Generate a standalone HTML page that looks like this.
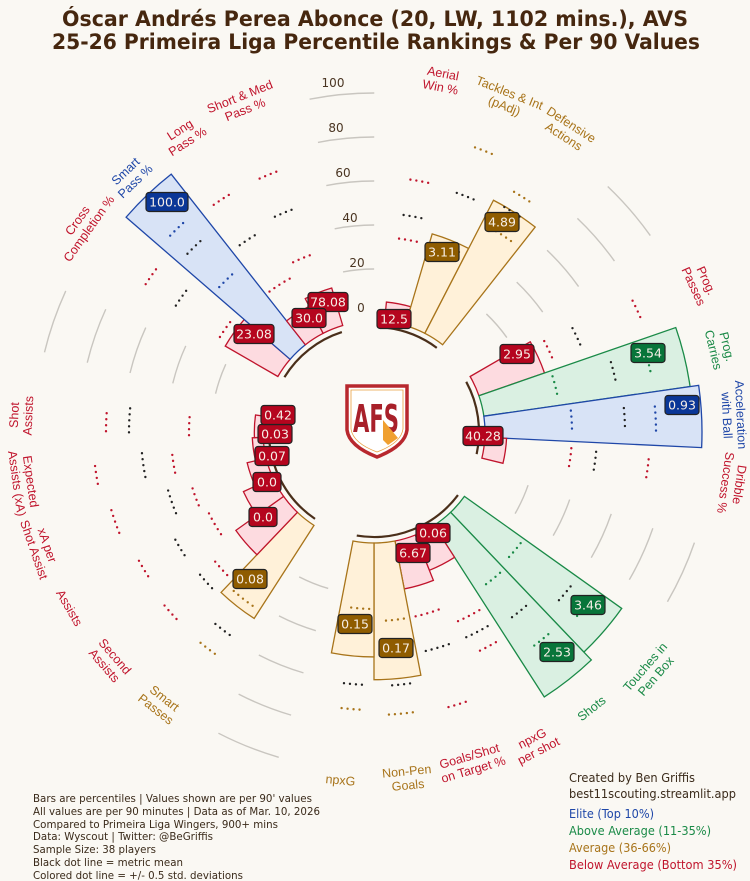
<!DOCTYPE html>
<html><head><meta charset="utf-8"><style>
html,body{margin:0;padding:0;background:#faf8f3;}
svg{display:block;font-family:"DejaVu Sans","Liberation Sans",sans-serif;}
</style></head><body>
<svg id="s" width="750" height="881" viewBox="0 0 750 881" xmlns="http://www.w3.org/2000/svg">
<rect width="750" height="881" fill="#faf8f3"/>
<g id="grid"></g><g id="bars"></g><g id="dots"></g>
<text x="375" y="26" text-anchor="middle" font-size="21" font-weight="bold" fill="#46270f" textLength="626" lengthAdjust="spacingAndGlyphs">Óscar Andrés Perea Abonce (20, LW, 1102 mins.), AVS</text>
<text x="376" y="49" text-anchor="middle" font-size="21" font-weight="bold" fill="#46270f" textLength="648" lengthAdjust="spacingAndGlyphs">25-26 Primeira Liga Percentile Rankings &amp; Per 90 Values</text>
<g font-size="12" fill="#4a3522" text-anchor="middle">
<text x="361" y="312">0</text><text x="357" y="267">20</text><text x="350" y="222">40</text><text x="343" y="177">60</text><text x="336" y="132">80</text><text x="333" y="87">100</text>
</g>
<g font-size="12.5" text-anchor="middle" font-family="Liberation Sans, sans-serif">
<g transform="translate(374,432) rotate(10.9) translate(0,-358)" fill="#c0142c"><text y="-3">Aerial</text><text y="11">Win %</text></g>
<g transform="translate(374,432) rotate(21.8) translate(0,-358)" fill="#a8741a"><text y="-3">Tackles &amp; Int</text><text y="11">(pAdj)</text></g>
<g transform="translate(374,432) rotate(32.7) translate(0,-358)" fill="#a8741a"><text y="-3">Defensive</text><text y="11">Actions</text></g>
<g transform="translate(374,432) rotate(65.5) translate(0,-358)" fill="#c0142c"><text y="-3">Prog.</text><text y="11">Passes</text></g>
<g transform="translate(374,432) rotate(76.4) translate(0,-356)" fill="#1a8a47"><text y="-3">Prog.</text><text y="11">Carries</text></g>
<g transform="translate(374,432) rotate(87.3) translate(0,-360)" fill="#1f47a8"><text y="-3">Acceleration</text><text y="11">with Ball</text></g>
<g transform="translate(374,432) rotate(98.2) translate(0,-362)" fill="#c0142c"><text y="-3">Dribble</text><text y="11">Success %</text></g>
<g transform="translate(374,432) rotate(130.9) translate(0,-366) rotate(180)" fill="#1a8a47"><text y="-3">Touches in</text><text y="11">Pen Box</text></g>
<g transform="translate(374,432) rotate(141.8) translate(0,-352) rotate(180)" fill="#1a8a47"><text y="4">Shots</text></g>
<g transform="translate(374,432) rotate(152.7) translate(0,-352) rotate(180)" fill="#c0142c"><text y="-3">npxG</text><text y="11">per shot</text></g>
<g transform="translate(374,432) rotate(163.6) translate(0,-345) rotate(180)" fill="#c0142c"><text y="-3">Goals/Shot</text><text y="11">on Target %</text></g>
<g transform="translate(374,432) rotate(174.5) translate(0,-348) rotate(180)" fill="#a8741a"><text y="-3">Non-Pen</text><text y="11">Goals</text></g>
<g transform="translate(374,432) rotate(185.5) translate(0,-350) rotate(180)" fill="#a8741a"><text y="4">npxG</text></g>
<g transform="translate(374,432) rotate(218.2) translate(0,-346) rotate(180)" fill="#a8741a"><text y="-3">Smart</text><text y="11">Passes</text></g>
<g transform="translate(374,432) rotate(229.1) translate(0,-350) rotate(180)" fill="#c0142c"><text y="-3">Second</text><text y="11">Assists</text></g>
<g transform="translate(374,432) rotate(240) translate(0,-352) rotate(180)" fill="#c0142c"><text y="4">Assists</text></g>
<g transform="translate(374,432) rotate(250.9) translate(0,-353) rotate(180)" fill="#c0142c"><text y="-3">xA per</text><text y="11">Shot Assist</text></g>
<g transform="translate(374,432) rotate(261.8) translate(0,-354) rotate(180)" fill="#c0142c"><text y="-3">Expected</text><text y="11">Assists (xA)</text></g>
<g transform="translate(374,432) rotate(272.7) translate(0,-353)" fill="#c0142c"><text y="-3">Shot</text><text y="11">Assists</text></g>
<g transform="translate(374,432) rotate(305.5) translate(0,-357)" fill="#c0142c"><text y="-3">Cross</text><text y="11">Completion %</text></g>
<g transform="translate(374,432) rotate(316.4) translate(0,-353)" fill="#1f47a8"><text y="-3">Smart</text><text y="11">Pass %</text></g>
<g transform="translate(374,432) rotate(327.3) translate(0,-352)" fill="#c0142c"><text y="-3">Long</text><text y="11">Pass %</text></g>
<g transform="translate(374,432) rotate(338.2) translate(0,-354)" fill="#c0142c"><text y="-3">Short &amp; Med</text><text y="11">Pass %</text></g>
</g>
<g>
<path d="M347,386 L407,386 L407,430 Q405,446 377,457 Q349,446 347,430 Z" fill="#fff" stroke="#b8282e" stroke-width="3.5"/>
<path d="M351,390 L403,390 L403,429 Q401,443 377,452 Q353,443 351,429 Z" fill="none" stroke="#e8a040" stroke-width="0.8"/>
<text x="376" y="432" text-anchor="middle" font-size="38" font-weight="bold" fill="#a8202a" textLength="46" lengthAdjust="spacingAndGlyphs">AFS</text>
<path d="M383,420 L398,438 L388,445 L383,440 Z" fill="#f0a030"/>
</g>
<g id="vals" font-size="12.5" text-anchor="middle" fill="#f6eee6">
<g><rect x="308" y="292.5" width="40" height="19" rx="3" fill="#b5051e" stroke="#222" stroke-width="1.2"/><text x="328" y="306.5">78.08</text></g>
<g><rect x="292" y="308.5" width="34" height="19" rx="3" fill="#b5051e" stroke="#222" stroke-width="1.2"/><text x="309" y="322.5">30.0</text></g>
<g><rect x="234" y="324.5" width="40" height="19" rx="3" fill="#b5051e" stroke="#222" stroke-width="1.2"/><text x="254" y="338.5">23.08</text></g>
<g><rect x="146" y="192.5" width="42" height="19" rx="3" fill="#0a3697" stroke="#222" stroke-width="1.2"/><text x="167" y="206.5">100.0</text></g>
<g><rect x="377" y="309.5" width="34" height="19" rx="3" fill="#b5051e" stroke="#222" stroke-width="1.2"/><text x="394" y="323.5">12.5</text></g>
<g><rect x="425" y="242.5" width="34" height="19" rx="3" fill="#8f5c00" stroke="#222" stroke-width="1.2"/><text x="442" y="256.5">3.11</text></g>
<g><rect x="485" y="212.5" width="34" height="19" rx="3" fill="#8f5c00" stroke="#222" stroke-width="1.2"/><text x="502" y="226.5">4.89</text></g>
<g><rect x="500" y="344.5" width="34" height="19" rx="3" fill="#b5051e" stroke="#222" stroke-width="1.2"/><text x="517" y="358.5">2.95</text></g>
<g><rect x="631" y="343.5" width="34" height="19" rx="3" fill="#08753a" stroke="#222" stroke-width="1.2"/><text x="648" y="357.5">3.54</text></g>
<g><rect x="665" y="395.5" width="34" height="19" rx="3" fill="#0a3697" stroke="#222" stroke-width="1.2"/><text x="682" y="409.5">0.93</text></g>
<g><rect x="463" y="426.5" width="40" height="19" rx="3" fill="#b5051e" stroke="#222" stroke-width="1.2"/><text x="483" y="440.5">40.28</text></g>
<g><rect x="416" y="523.5" width="34" height="19" rx="3" fill="#b5051e" stroke="#222" stroke-width="1.2"/><text x="433" y="537.5">0.06</text></g>
<g><rect x="396" y="543.5" width="34" height="19" rx="3" fill="#b5051e" stroke="#222" stroke-width="1.2"/><text x="413" y="557.5">6.67</text></g>
<g><rect x="338" y="614.5" width="34" height="19" rx="3" fill="#8f5c00" stroke="#222" stroke-width="1.2"/><text x="355" y="628.5">0.15</text></g>
<g><rect x="379" y="638.5" width="34" height="19" rx="3" fill="#8f5c00" stroke="#222" stroke-width="1.2"/><text x="396" y="652.5">0.17</text></g>
<g><rect x="571" y="595.5" width="34" height="19" rx="3" fill="#08753a" stroke="#222" stroke-width="1.2"/><text x="588" y="609.5">3.46</text></g>
<g><rect x="540" y="642.5" width="34" height="19" rx="3" fill="#08753a" stroke="#222" stroke-width="1.2"/><text x="557" y="656.5">2.53</text></g>
<g><rect x="233" y="569.5" width="34" height="19" rx="3" fill="#8f5c00" stroke="#222" stroke-width="1.2"/><text x="250" y="583.5">0.08</text></g>
<g><rect x="249" y="507.5" width="28" height="19" rx="3" fill="#b5051e" stroke="#222" stroke-width="1.2"/><text x="263" y="521.5">0.0</text></g>
<g><rect x="253" y="472.5" width="28" height="19" rx="3" fill="#b5051e" stroke="#222" stroke-width="1.2"/><text x="267" y="486.5">0.0</text></g>
<g><rect x="255" y="446.5" width="34" height="19" rx="3" fill="#b5051e" stroke="#222" stroke-width="1.2"/><text x="272" y="460.5">0.07</text></g>
<g><rect x="258" y="424.5" width="34" height="19" rx="3" fill="#b5051e" stroke="#222" stroke-width="1.2"/><text x="275" y="438.5">0.03</text></g>
<g><rect x="261" y="405.5" width="34" height="19" rx="3" fill="#b5051e" stroke="#222" stroke-width="1.2"/><text x="278" y="419.5">0.42</text></g>
</g>
<g font-size="11" fill="#3a2a1a">
<text x="33" y="802" textLength="279" lengthAdjust="spacingAndGlyphs">Bars are percentiles | Values shown are per 90' values</text>
<text x="33" y="815" textLength="287" lengthAdjust="spacingAndGlyphs">All values are per 90 minutes | Data as of Mar. 10, 2026</text>
<text x="33" y="828" textLength="245" lengthAdjust="spacingAndGlyphs">Compared to Primeira Liga Wingers, 900+ mins</text>
<text x="33" y="840" textLength="180" lengthAdjust="spacingAndGlyphs">Data: Wyscout | Twitter: @BeGriffis</text>
<text x="33" y="853" textLength="123" lengthAdjust="spacingAndGlyphs">Sample Size: 38 players</text>
<text x="33" y="866" textLength="150" lengthAdjust="spacingAndGlyphs">Black dot line = metric mean</text>
<text x="33" y="879" textLength="210" lengthAdjust="spacingAndGlyphs">Colored dot line = +/- 0.5 std. deviations</text>
</g>
<g font-size="12.5">
<text x="569" y="782" fill="#3a2a1a" textLength="126" lengthAdjust="spacingAndGlyphs">Created by Ben Griffis</text>
<text x="569" y="798" fill="#3a2a1a" textLength="167" lengthAdjust="spacingAndGlyphs">best11scouting.streamlit.app</text>
<text x="569" y="818" fill="#1f47a8" textLength="85" lengthAdjust="spacingAndGlyphs">Elite (Top 10%)</text>
<text x="569" y="835" fill="#1a8a47" textLength="142" lengthAdjust="spacingAndGlyphs">Above Average (11-35%)</text>
<text x="569" y="852" fill="#a8741a" textLength="102" lengthAdjust="spacingAndGlyphs">Average (36-66%)</text>
<text x="569" y="869" fill="#c0142c" textLength="168" lengthAdjust="spacingAndGlyphs">Below Average (Bottom 35%)</text>
</g>
</svg>
<script>
(function(){
var cx=374,cy=432,S=360/33,NS="http://www.w3.org/2000/svg";
function pt(r,a){var t=a*Math.PI/180;return (cx+r*Math.sin(t)).toFixed(2)+","+(cy-r*Math.cos(t)).toFixed(2);}
function el(parent,tag,attrs){var e=document.createElementNS(NS,tag);for(var k in attrs)e.setAttribute(k,attrs[k]);document.getElementById(parent).appendChild(e);return e;}
function arc(r,a1,a2){return "M"+pt(r,a1)+" A"+r+","+r+" 0 0 1 "+pt(r,a2);}
var C={r:["#fddbe0","#c0142c"],b:["#fff1d9","#a8741a"],g:["#daf0e2","#1a8a47"],u:["#d8e3f6","#1f47a8"]};
var D=[[28,28,"r",[181,235,272]],[29,100,"u",[212,258,283]],[30,14,"r",[175,230,278]],[31,18,"r",[188,237,278]],
[1,9,"r",[195,219,255]],[2,44,"b",[199,253,302]],[3,69,"b",[235,260,278]],
[6,32,"r",[193,224,290]],[7,96,"g",[187,247,283]],[8,100,"u",[198,251,282]],[9,10,"r",[198,223,276]],
[12,89,"g",[184,250,274]],[13,94,"g",[189,231,267]],[14,17.5,"r",[207,225,243]],[15,22.5,"r",[189,225,285]],[16,63,"b",[189,254,283]],[17,52.5,"b",[177,253,278]],
[20,51,"b",[212,249,273]],[21,27,"r",[205,225,272]],[22,15,"r",[184,226,268]],[23,9,"r",[190,214,274]],[24,5,"r",[203,233,281]],[25,4,"r",[185,245,268]]];
[-S/2,4.5*S,10.5*S,18.5*S,26.5*S].forEach(function(g){
 [20,40,60,80,100].forEach(function(p){var r=119+2.2*p;el("grid","path",{d:arc(r,g-5.5,g+5.5),fill:"none",stroke:"#c9c6c0","stroke-width":1.4});});
});
[[28,31],[1,3],[6,9],[12,17],[20,25]].forEach(function(g){
 el("grid","path",{d:arc(105,g[0]*S-4,g[1]*S+4),fill:"none",stroke:"#4a2f1a","stroke-width":2.2});
});
var r0=111,hw=S/2;
D.forEach(function(d){
 var a=d[0]*S,r1=r0+2.17*d[1],c=C[d[2]];
 var p="M"+pt(r0,a-hw)+" L"+pt(r1,a-hw)+" A"+r1+","+r1+" 0 0 1 "+pt(r1,a+hw)+" L"+pt(r0,a+hw)+" A"+r0+","+r0+" 0 0 0 "+pt(r0,a-hw)+" Z";
 el("bars","path",{d:p,fill:c[0],stroke:c[1],"stroke-width":1.3});
 var dr=d[3];
 [[dr[0],c[1]],[dr[1],"#222"],[dr[2],c[1]]].forEach(function(q){
  var r=q[0],h=12/r*180/Math.PI;
  el("dots","path",{d:arc(r,a-h,a+h),fill:"none",stroke:q[1],"stroke-width":2.4,"stroke-linecap":"round","stroke-dasharray":"0 6"});
 });
});
})();
</script>
</body></html>
